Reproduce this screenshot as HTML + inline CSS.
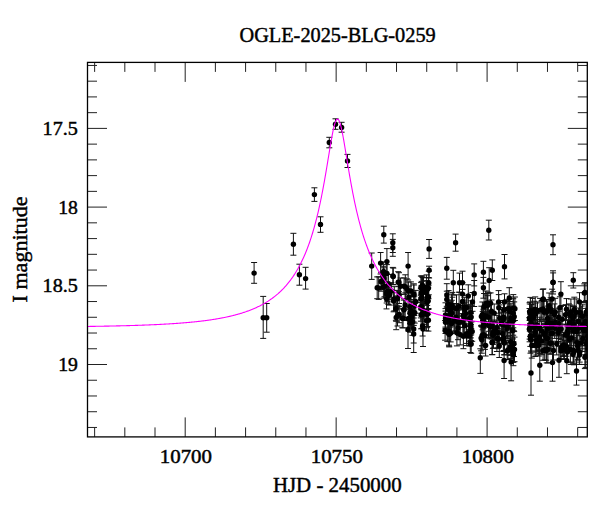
<!DOCTYPE html><html><head><meta charset="utf-8"><style>html,body{margin:0;padding:0;width:600px;height:512px;overflow:hidden;background:#fff}</style></head><body><svg width="600" height="512" viewBox="0 0 600 512" style="position:absolute;left:0;top:0">
<rect width="600" height="512" fill="#fff"/>
<defs><clipPath id="c"><rect x="87.5" y="62.4" width="499.79999999999995" height="374.5"/></clipPath></defs>
<path d="M94.63 436.9V427.40M94.63 62.4V71.90M124.82 436.9V427.40M124.82 62.4V71.90M155.01 436.9V427.40M155.01 62.4V71.90M185.20 436.9V417.40M185.20 62.4V81.90M215.39 436.9V427.40M215.39 62.4V71.90M245.58 436.9V427.40M245.58 62.4V71.90M275.77 436.9V427.40M275.77 62.4V71.90M305.96 436.9V427.40M305.96 62.4V71.90M336.15 436.9V417.40M336.15 62.4V81.90M366.34 436.9V427.40M366.34 62.4V71.90M396.53 436.9V427.40M396.53 62.4V71.90M426.72 436.9V427.40M426.72 62.4V71.90M456.91 436.9V427.40M456.91 62.4V71.90M487.10 436.9V417.40M487.10 62.4V81.90M517.29 436.9V427.40M517.29 62.4V71.90M547.48 436.9V427.40M547.48 62.4V71.90M577.67 436.9V427.40M577.67 62.4V71.90M87.5 65.44H97.00M587.3 65.44H577.80M87.5 81.18H97.00M587.3 81.18H577.80M87.5 96.92H97.00M587.3 96.92H577.80M87.5 112.66H97.00M587.3 112.66H577.80M87.5 128.40H107.00M587.3 128.40H567.80M87.5 144.14H97.00M587.3 144.14H577.80M87.5 159.88H97.00M587.3 159.88H577.80M87.5 175.62H97.00M587.3 175.62H577.80M87.5 191.36H97.00M587.3 191.36H577.80M87.5 207.10H107.00M587.3 207.10H567.80M87.5 222.84H97.00M587.3 222.84H577.80M87.5 238.58H97.00M587.3 238.58H577.80M87.5 254.32H97.00M587.3 254.32H577.80M87.5 270.06H97.00M587.3 270.06H577.80M87.5 285.80H107.00M587.3 285.80H567.80M87.5 301.54H97.00M587.3 301.54H577.80M87.5 317.28H97.00M587.3 317.28H577.80M87.5 333.02H97.00M587.3 333.02H577.80M87.5 348.76H97.00M587.3 348.76H577.80M87.5 364.50H107.00M587.3 364.50H567.80M87.5 380.24H97.00M587.3 380.24H577.80M87.5 395.98H97.00M587.3 395.98H577.80M87.5 411.72H97.00M587.3 411.72H577.80M87.5 427.46H97.00M587.3 427.46H577.80" stroke="#222" stroke-width="1" fill="none"/>
<g clip-path="url(#c)"><path d="M335.5 118.8V129.3M332.5 118.8h6M332.5 129.3h6M341.6 122.3V132.2M338.6 122.3h6M338.6 132.2h6M329.3 137.3V147.8M326.3 137.3h6M326.3 147.8h6M347.5 154.4V167.5M344.5 154.4h6M344.5 167.5h6M314.4 187.8V201.4M311.4 187.8h6M311.4 201.4h6M320.5 216.8V232.3M317.5 216.8h6M317.5 232.3h6M254.1 262.5V283.3M251.1 262.5h6M251.1 283.3h6M293.4 233.3V255.2M290.4 233.3h6M290.4 255.2h6M299.4 264.2V285.2M296.4 264.2h6M296.4 285.2h6M305.6 267.3V289.1M302.6 267.3h6M302.6 289.1h6M263.2 296.4V338.4M260.2 296.4h6M260.2 338.4h6M266.7 303.5V332.2M263.7 303.5h6M263.7 332.2h6M383.8 226.2V243.1M380.8 226.2h6M380.8 243.1h6M392.8 233.8V252.5M389.8 233.8h6M389.8 252.5h6M392.8 239.4V256.3M389.8 239.4h6M389.8 256.3h6M429.1 239.5V258.4M426.1 239.5h6M426.1 258.4h6M429.1 266.2V278.0M426.1 266.2h6M426.1 278.0h6M455.6 234.1V251.2M452.6 234.1h6M452.6 251.2h6M488.8 220.2V240.0M485.8 220.2h6M485.8 240.0h6M553.0 234.8V254.7M550.0 234.8h6M550.0 254.7h6M573.3 272.7V288.0M570.3 272.7h6M570.3 288.0h6M553.0 270.8V294.0M550.0 270.8h6M550.0 294.0h6M371.7 253.0V279.4M368.7 253.0h6M368.7 279.4h6M380.6 252.5V274.0M377.6 252.5h6M377.6 274.0h6M386.9 248.6V274.0M383.9 248.6h6M383.9 274.0h6M408.1 252.5V280.0M405.1 252.5h6M405.1 280.0h6M383.6 261.9V281.1M380.6 261.9h6M380.6 281.1h6M386.9 264.6V282.2M383.9 264.6h6M383.9 282.2h6M378.7 276.8V299.4M375.7 276.8h6M375.7 299.4h6M381.6 272.9V289.6M378.6 272.9h6M378.6 289.6h6M384.5 275.4V296.8M381.5 275.4h6M381.5 296.8h6M388.4 274.4V294.0M385.4 274.4h6M385.4 294.0h6M393.3 268.1V284.7M390.3 268.1h6M390.3 284.7h6M398.2 271.7V292.7M395.2 271.7h6M395.2 292.7h6M404.1 277.9V294.3M401.1 277.9h6M401.1 294.3h6M407.0 278.9V299.3M404.0 278.9h6M404.0 299.3h6M391.4 282.7V299.3M388.4 282.7h6M388.4 299.3h6M388.4 287.4V304.4M385.4 287.4h6M385.4 304.4h6M386.5 288.7V308.9M383.5 288.7h6M383.5 308.9h6M394.3 286.7V310.9M391.3 286.7h6M391.3 310.9h6M399.2 286.3V303.5M396.2 286.3h6M396.2 303.5h6M410.9 281.9V300.1M407.9 281.9h6M407.9 300.1h6M413.8 283.8V306.0M410.8 283.8h6M410.8 306.0h6M396.2 295.9V321.3M393.2 295.9h6M393.2 321.3h6M404.1 298.7V320.5M401.1 298.7h6M401.1 320.5h6M409.9 296.6V316.6M406.9 296.6h6M406.9 316.6h6M413.8 299.6V325.4M410.8 299.6h6M410.8 325.4h6M399.2 306.3V322.7M396.2 306.3h6M396.2 322.7h6M396.2 305.1V329.7M393.2 305.1h6M393.2 329.7h6M403.1 309.0V327.8M400.1 309.0h6M400.1 327.8h6M409.9 309.7V327.1M406.9 309.7h6M406.9 327.1h6M392.8 267.4V284.6M389.8 267.4h6M389.8 284.6h6M399.0 272.7V291.7M396.0 272.7h6M396.0 291.7h6M405.3 274.8V299.0M402.3 274.8h6M402.3 299.0h6M413.9 285.0V302.8M410.9 285.0h6M410.9 302.8h6M377.2 276.9V298.7M374.2 276.9h6M374.2 298.7h6M383.4 275.8V298.2M380.4 275.8h6M380.4 298.2h6M387.3 281.8V301.6M384.3 281.8h6M384.3 301.6h6M393.6 290.4V311.8M390.6 290.4h6M390.6 311.8h6M397.5 290.4V307.1M394.5 290.4h6M394.5 307.1h6M400.6 278.0V294.5M397.6 278.0h6M397.6 294.5h6M408.4 282.0V300.0M405.4 282.0h6M405.4 300.0h6M395.9 297.5V320.3M392.9 297.5h6M392.9 320.3h6M397.5 305.8V326.0M394.5 305.8h6M394.5 326.0h6M403.8 300.1V319.3M400.8 300.1h6M400.8 319.3h6M410.0 301.9V323.7M407.0 301.9h6M407.0 323.7h6M414.7 302.5V323.1M411.7 302.5h6M411.7 323.1h6M402.2 308.8V327.8M399.2 308.8h6M399.2 327.8h6M408.4 307.0V331.0M405.4 307.0h6M405.4 331.0h6M411.6 305.2V328.2M408.6 305.2h6M408.6 328.2h6M410.0 313.8V332.2M407.0 313.8h6M407.0 332.2h6M408.0 317.5V348.5M405.0 317.5h6M405.0 348.5h6M413.7 318.0V343.0M410.7 318.0h6M410.7 343.0h6M413.7 322.0V352.5M410.7 322.0h6M410.7 352.5h6M423.0 317.0V346.5M420.0 317.0h6M420.0 346.5h6M422.6 316.0V336.0M419.6 316.0h6M419.6 336.0h6M421.6 276.2V298.0M418.6 276.2h6M418.6 298.0h6M428.5 277.5V298.7M425.5 277.5h6M425.5 298.7h6M421.6 285.5V310.2M418.6 285.5h6M418.6 310.2h6M428.5 285.3V308.5M425.5 285.3h6M425.5 308.5h6M421.6 297.2V316.0M418.6 297.2h6M418.6 316.0h6M427.5 287.9V313.7M424.5 287.9h6M424.5 313.7h6M423.6 301.9V319.1M420.6 301.9h6M420.6 319.1h6M426.4 310.5V330.7M423.4 310.5h6M423.4 330.7h6M420.9 276.0V299.6M417.9 276.0h6M417.9 299.6h6M427.2 280.6V298.2M424.2 280.6h6M424.2 298.2h6M420.9 288.3V309.2M417.9 288.3h6M417.9 309.2h6M427.2 289.0V305.4M424.2 289.0h6M424.2 305.4h6M420.9 295.3V317.9M417.9 295.3h6M417.9 317.9h6M428.8 271.2V294.8M425.8 271.2h6M425.8 294.8h6M446.8 257.4V279.2M443.8 257.4h6M443.8 279.2h6M453.3 270.3V295.1M450.3 270.3h6M450.3 295.1h6M459.5 273.1V292.3M456.5 273.1h6M456.5 292.3h6M462.5 271.2V294.2M459.5 271.2h6M459.5 294.2h6M474.2 263.9V285.9M471.2 263.9h6M471.2 285.9h6M483.4 261.3V283.1M480.4 261.3h6M480.4 283.1h6M492.3 259.9V280.5M489.3 259.9h6M489.3 280.5h6M504.5 254.5V278.9M501.5 254.5h6M501.5 278.9h6M489.2 267.7V293.1M486.2 267.7h6M486.2 293.1h6M483.4 277.4V298.2M480.4 277.4h6M480.4 298.2h6M446.8 283.7V306.3M443.8 283.7h6M443.8 306.3h6M446.8 291.2V307.8M443.8 291.2h6M443.8 307.8h6M462.5 282.6V305.6M459.5 282.6h6M459.5 305.6h6M468.3 284.8V307.2M465.3 284.8h6M465.3 307.2h6M474.2 280.5V306.5M471.2 280.5h6M471.2 306.5h6M462.5 289.4V313.6M459.5 289.4h6M459.5 313.6h6M472.5 292.5V311.3M469.5 292.5h6M469.5 311.3h6M486.9 293.9V313.7M483.9 293.9h6M483.9 313.7h6M498.6 290.6V313.2M495.6 290.6h6M495.6 313.2h6M504.5 293.8V310.0M501.5 293.8h6M501.5 310.0h6M509.3 287.7V308.3M506.3 287.7h6M506.3 308.3h6M450.7 324.3V341.9M447.7 324.3h6M447.7 341.9h6M470.3 335.3V352.5M467.3 335.3h6M467.3 352.5h6M498.6 330.7V347.3M495.6 330.7h6M495.6 347.3h6M504.5 331.1V354.7M501.5 331.1h6M501.5 354.7h6M510.3 338.2V355.4M507.3 338.2h6M507.3 355.4h6M471.2 334.9V353.3M468.2 334.9h6M468.2 353.3h6M497.8 328.6V348.6M494.8 328.6h6M494.8 348.6h6M504.1 330.1V354.9M501.1 330.1h6M501.1 354.9h6M507.2 342.7V359.5M504.2 342.7h6M504.2 359.5h6M513.4 341.7V362.1M510.4 341.7h6M510.4 362.1h6M513.4 344.3V365.7M510.4 344.3h6M510.4 365.7h6M463.4 323.8V348.7M460.4 323.8h6M460.4 348.7h6M492.3 330.4V354.6M489.3 330.4h6M489.3 354.6h6M512.3 317.7V342.3M509.3 317.7h6M509.3 342.3h6M480.3 348.8V373.4M477.3 348.8h6M477.3 373.4h6M504.1 350.5V378.5M501.1 350.5h6M501.1 378.5h6M511.1 352.0V380.8M508.1 352.0h6M508.1 380.8h6M553.1 272.9V291.7M550.1 272.9h6M550.1 291.7h6M543.3 288.9V309.1M540.3 288.9h6M540.3 309.1h6M552.1 289.2V308.8M549.1 289.2h6M549.1 308.8h6M560.9 281.7V306.5M557.9 281.7h6M557.9 306.5h6M549.2 293.0V318.6M546.2 293.0h6M546.2 318.6h6M537.5 301.9V319.5M534.5 301.9h6M534.5 319.5h6M529.6 302.7V320.5M526.6 302.7h6M526.6 320.5h6M579.5 292.7V311.1M576.5 292.7h6M576.5 311.1h6M584.3 283.9V302.3M581.3 283.9h6M581.3 302.3h6M580.4 302.2V323.0M577.4 302.2h6M577.4 323.0h6M559.9 296.8V318.6M556.9 296.8h6M556.9 318.6h6M546.2 341.6V360.2M543.2 341.6h6M543.2 360.2h6M560.9 342.9V358.9M557.9 342.9h6M557.9 358.9h6M542.8 289.4V309.6M539.8 289.4h6M539.8 309.6h6M585.0 282.7V302.3M582.0 282.7h6M582.0 302.3h6M531.0 351.0V395.2M528.0 351.0h6M528.0 395.2h6M539.8 351.2V381.2M536.8 351.2h6M536.8 381.2h6M552.5 348.6V381.2M549.5 348.6h6M549.5 381.2h6M559.0 346.3V377.3M556.0 346.3h6M556.0 377.3h6M566.8 347.7V373.7M563.8 347.7h6M563.8 373.7h6M576.5 357.0V385.1M573.5 357.0h6M573.5 385.1h6M405.2 292.9V317.1M402.2 292.9h6M402.2 317.1h6M412.5 308.5V335.3M409.5 308.5h6M409.5 335.3h6M408.9 286.1V308.1M405.9 286.1h6M405.9 308.1h6M383.2 266.3V286.4M380.2 266.3h6M380.2 286.4h6M386.7 284.5V303.0M383.7 284.5h6M383.7 303.0h6M381.0 272.2V291.2M378.0 272.2h6M378.0 291.2h6M411.6 301.6V321.0M408.6 301.6h6M408.6 321.0h6M389.8 283.4V305.1M386.8 283.4h6M386.8 305.1h6M415.8 290.4V313.2M412.8 290.4h6M412.8 313.2h6M384.0 267.8V289.3M381.0 267.8h6M381.0 289.3h6M414.3 296.1V315.5M411.3 296.1h6M411.3 315.5h6M411.2 306.3V326.9M408.2 306.3h6M408.2 326.9h6M422.5 277.5V303.2M419.5 277.5h6M419.5 303.2h6M424.1 303.0V324.3M421.1 303.0h6M421.1 324.3h6M421.1 300.9V328.8M418.1 300.9h6M418.1 328.8h6M427.1 301.5V327.7M424.1 301.5h6M424.1 327.7h6M426.0 281.0V304.2M423.0 281.0h6M423.0 304.2h6M422.4 276.0V294.2M419.4 276.0h6M419.4 294.2h6M421.7 281.4V306.3M418.7 281.4h6M418.7 306.3h6M428.1 287.3V314.7M425.1 287.3h6M425.1 314.7h6M428.4 309.5V331.1M425.4 309.5h6M425.4 331.1h6M421.1 282.6V302.6M418.1 282.6h6M418.1 302.6h6M420.9 294.2V321.2M417.9 294.2h6M417.9 321.2h6M427.0 290.0V314.5M424.0 290.0h6M424.0 314.5h6M426.6 274.9V299.5M423.6 274.9h6M423.6 299.5h6M427.6 301.0V326.5M424.6 301.0h6M424.6 326.5h6M423.5 277.8V303.7M420.5 277.8h6M420.5 303.7h6M422.2 300.6V328.3M419.2 300.6h6M419.2 328.3h6M455.9 303.5V331.0M452.9 303.5h6M452.9 331.0h6M464.9 300.0V319.2M461.9 300.0h6M461.9 319.2h6M449.2 320.8V346.9M446.2 320.8h6M446.2 346.9h6M449.0 317.4V345.2M446.0 317.4h6M446.0 345.2h6M463.1 303.8V327.3M460.1 303.8h6M460.1 327.3h6M448.6 290.6V318.3M445.6 290.6h6M445.6 318.3h6M462.9 307.7V335.0M459.9 307.7h6M459.9 335.0h6M456.9 319.6V345.9M453.9 319.6h6M453.9 345.9h6M450.8 301.8V322.8M447.8 301.8h6M447.8 322.8h6M451.6 313.1V333.6M448.6 313.1h6M448.6 333.6h6M456.5 294.8V321.9M453.5 294.8h6M453.5 321.9h6M454.7 307.2V331.0M451.7 307.2h6M451.7 331.0h6M469.9 304.3V331.5M466.9 304.3h6M466.9 331.5h6M458.8 309.9V333.2M455.8 309.9h6M455.8 333.2h6M445.5 308.6V328.4M442.5 308.6h6M442.5 328.4h6M445.1 320.5V340.2M442.1 320.5h6M442.1 340.2h6M458.0 316.1V339.7M455.0 316.1h6M455.0 339.7h6M454.0 309.3V332.9M451.0 309.3h6M451.0 332.9h6M466.6 295.7V319.3M463.6 295.7h6M463.6 319.3h6M451.8 300.3V326.0M448.8 300.3h6M448.8 326.0h6M459.0 309.7V335.3M456.0 309.7h6M456.0 335.3h6M470.1 306.6V330.7M467.1 306.6h6M467.1 330.7h6M458.9 308.4V333.4M455.9 308.4h6M455.9 333.4h6M457.4 310.2V333.0M454.4 310.2h6M454.4 333.0h6M470.9 313.7V340.5M467.9 313.7h6M467.9 340.5h6M470.9 300.8V324.4M467.9 300.8h6M467.9 324.4h6M470.9 322.0V341.4M467.9 322.0h6M467.9 341.4h6M448.3 309.2V328.0M445.3 309.2h6M445.3 328.0h6M451.6 294.1V318.8M448.6 294.1h6M448.6 318.8h6M466.6 323.8V343.4M463.6 323.8h6M463.6 343.4h6M464.7 316.1V335.5M461.7 316.1h6M461.7 335.5h6M469.3 325.8V346.0M466.3 325.8h6M466.3 346.0h6M471.2 305.7V328.6M468.2 305.7h6M468.2 328.6h6M472.2 321.7V341.3M469.2 321.7h6M469.2 341.3h6M456.9 310.3V331.7M453.9 310.3h6M453.9 331.7h6M450.4 301.9V327.1M447.4 301.9h6M447.4 327.1h6M445.5 311.1V333.5M442.5 311.1h6M442.5 333.5h6M445.5 302.8V327.1M442.5 302.8h6M442.5 327.1h6M459.1 292.2V320.0M456.1 292.2h6M456.1 320.0h6M466.7 326.5V345.6M463.7 326.5h6M463.7 345.6h6M452.3 292.4V318.2M449.3 292.4h6M449.3 318.2h6M452.4 297.2V319.4M449.4 297.2h6M449.4 319.4h6M470.1 320.7V341.3M467.1 320.7h6M467.1 341.3h6M449.1 322.5V346.2M446.1 322.5h6M446.1 346.2h6M464.3 297.7V316.2M461.3 297.7h6M461.3 316.2h6M463.9 308.7V327.4M460.9 308.7h6M460.9 327.4h6M470.8 311.9V337.9M467.8 311.9h6M467.8 337.9h6M447.3 322.9V341.6M444.3 322.9h6M444.3 341.6h6M468.7 308.3V329.7M465.7 308.3h6M465.7 329.7h6M460.2 324.2V344.9M457.2 324.2h6M457.2 344.9h6M448.6 311.2V331.6M445.6 311.2h6M445.6 331.6h6M448.0 300.1V318.6M445.0 300.1h6M445.0 318.6h6M450.5 303.8V324.8M447.5 303.8h6M447.5 324.8h6M465.9 302.1V325.1M462.9 302.1h6M462.9 325.1h6M449.9 306.4V324.5M446.9 306.4h6M446.9 324.5h6M485.8 291.0V316.3M482.8 291.0h6M482.8 316.3h6M491.5 300.0V322.7M488.5 300.0h6M488.5 322.7h6M498.8 294.6V320.8M495.8 294.6h6M495.8 320.8h6M489.2 311.6V338.0M486.2 311.6h6M486.2 338.0h6M488.5 312.9V337.7M485.5 312.9h6M485.5 337.7h6M499.7 304.9V331.2M496.7 304.9h6M496.7 331.2h6M494.4 320.0V342.0M491.4 320.0h6M491.4 342.0h6M487.6 295.7V315.0M484.6 295.7h6M484.6 315.0h6M482.3 325.3V345.9M479.3 325.3h6M479.3 345.9h6M484.1 293.5V319.9M481.1 293.5h6M481.1 319.9h6M497.5 322.1V342.9M494.5 322.1h6M494.5 342.9h6M485.6 304.6V327.2M482.6 304.6h6M482.6 327.2h6M484.0 312.3V332.9M481.0 312.3h6M481.0 332.9h6M499.3 334.1V357.5M496.3 334.1h6M496.3 357.5h6M485.6 334.9V356.0M482.6 334.9h6M482.6 356.0h6M487.8 292.1V314.0M484.8 292.1h6M484.8 314.0h6M490.0 315.1V335.1M487.0 315.1h6M487.0 335.1h6M490.6 292.9V313.5M487.6 292.9h6M487.6 313.5h6M482.7 311.4V329.8M479.7 311.4h6M479.7 329.8h6M481.4 306.2V326.6M478.4 306.2h6M478.4 326.6h6M492.1 313.5V339.0M489.1 313.5h6M489.1 339.0h6M493.5 321.1V347.9M490.5 321.1h6M490.5 347.9h6M488.4 303.4V331.3M485.4 303.4h6M485.4 331.3h6M483.8 322.6V347.1M480.8 322.6h6M480.8 347.1h6M481.8 326.3V353.2M478.8 326.3h6M478.8 353.2h6M492.9 322.2V348.4M489.9 322.2h6M489.9 348.4h6M483.6 314.5V337.6M480.6 314.5h6M480.6 337.6h6M496.9 325.3V351.5M493.9 325.3h6M493.9 351.5h6M492.1 329.9V354.7M489.1 329.9h6M489.1 354.7h6M494.2 304.0V322.3M491.2 304.0h6M491.2 322.3h6M483.5 309.3V328.4M480.5 309.3h6M480.5 328.4h6M496.9 315.4V339.7M493.9 315.4h6M493.9 339.7h6M492.9 321.5V344.4M489.9 321.5h6M489.9 344.4h6M481.1 325.4V350.8M478.1 325.4h6M478.1 350.8h6M490.6 314.3V338.8M487.6 314.3h6M487.6 338.8h6M482.3 325.2V345.7M479.3 325.2h6M479.3 345.7h6M482.4 302.0V327.3M479.4 302.0h6M479.4 327.3h6M484.9 321.7V349.4M481.9 321.7h6M481.9 349.4h6M507.4 313.0V336.7M504.4 313.0h6M504.4 336.7h6M510.6 329.0V354.4M507.6 329.0h6M507.6 354.4h6M509.9 301.5V321.3M506.9 301.5h6M506.9 321.3h6M503.3 329.9V351.5M500.3 329.9h6M500.3 351.5h6M508.7 299.2V317.9M505.7 299.2h6M505.7 317.9h6M503.6 324.4V350.7M500.6 324.4h6M500.6 350.7h6M510.5 308.7V332.9M507.5 308.7h6M507.5 332.9h6M506.9 318.8V338.2M503.9 318.8h6M503.9 338.2h6M514.2 301.9V331.6M511.2 301.9h6M511.2 331.6h6M514.9 297.0V320.5M511.9 297.0h6M511.9 320.5h6M512.9 338.9V362.3M509.9 338.9h6M509.9 362.3h6M503.6 302.6V331.9M500.6 302.6h6M500.6 331.9h6M502.6 323.7V343.4M499.6 323.7h6M499.6 343.4h6M507.9 340.1V359.7M504.9 340.1h6M504.9 359.7h6M512.9 316.1V344.7M509.9 316.1h6M509.9 344.7h6M511.0 303.8V332.6M508.0 303.8h6M508.0 332.6h6M507.3 300.1V318.1M504.3 300.1h6M504.3 318.1h6M507.4 317.0V338.6M504.4 317.0h6M504.4 338.6h6M501.4 312.2V334.0M498.4 312.2h6M498.4 334.0h6M513.3 294.6V321.6M510.3 294.6h6M510.3 321.6h6M513.3 298.7V327.8M510.3 298.7h6M510.3 327.8h6M511.1 336.9V358.4M508.1 336.9h6M508.1 358.4h6M505.3 310.3V340.3M502.3 310.3h6M502.3 340.3h6M509.0 312.3V335.4M506.0 312.3h6M506.0 335.4h6M503.7 300.5V319.7M500.7 300.5h6M500.7 319.7h6M513.2 306.0V335.2M510.2 306.0h6M510.2 335.2h6M503.2 307.6V331.8M500.2 307.6h6M500.2 331.8h6M502.2 309.7V339.2M499.2 309.7h6M499.2 339.2h6M514.0 330.9V356.5M511.0 330.9h6M511.0 356.5h6M514.5 337.1V361.7M511.5 337.1h6M511.5 361.7h6M532.6 298.4V323.7M529.6 298.4h6M529.6 323.7h6M531.3 327.6V352.1M528.3 327.6h6M528.3 352.1h6M530.4 297.4V324.6M527.4 297.4h6M527.4 324.6h6M529.6 317.6V339.1M526.6 317.6h6M526.6 339.1h6M530.5 325.4V353.2M527.5 325.4h6M527.5 353.2h6M530.3 325.4V346.4M527.3 325.4h6M527.3 346.4h6M531.8 315.3V335.0M528.8 315.3h6M528.8 335.0h6M529.8 304.0V331.1M526.8 304.0h6M526.8 331.1h6M531.5 304.5V331.6M528.5 304.5h6M528.5 331.6h6M534.0 317.8V337.1M531.0 317.8h6M531.0 337.1h6M530.0 302.0V323.4M527.0 302.0h6M527.0 323.4h6M529.5 308.5V329.1M526.5 308.5h6M526.5 329.1h6M531.8 332.6V358.1M528.8 332.6h6M528.8 358.1h6M531.1 314.3V337.6M528.1 314.3h6M528.1 337.6h6M530.9 313.6V332.2M527.9 313.6h6M527.9 332.2h6M529.6 317.5V341.8M526.6 317.5h6M526.6 341.8h6M533.3 307.5V328.2M530.3 307.5h6M530.3 328.2h6M530.2 314.2V336.6M527.2 314.2h6M527.2 336.6h6M585.5 308.4V335.1M582.5 308.4h6M582.5 335.1h6M535.2 296.9V322.0M532.2 296.9h6M532.2 322.0h6M582.4 304.2V328.0M579.4 304.2h6M579.4 328.0h6M534.0 301.2V328.5M531.0 301.2h6M531.0 328.5h6M578.6 308.0V335.7M575.6 308.0h6M575.6 335.7h6M547.4 300.9V320.4M544.4 300.9h6M544.4 320.4h6M562.2 305.5V332.9M559.2 305.5h6M559.2 332.9h6M573.0 305.9V331.5M570.0 305.9h6M570.0 331.5h6M558.7 308.1V326.5M555.7 308.1h6M555.7 326.5h6M576.2 298.9V326.1M573.2 298.9h6M573.2 326.1h6M568.9 303.9V323.2M565.9 303.9h6M565.9 323.2h6M547.6 306.1V331.0M544.6 306.1h6M544.6 331.0h6M540.1 298.4V321.7M537.1 298.4h6M537.1 321.7h6M565.5 304.7V324.9M562.5 304.7h6M562.5 324.9h6M566.5 298.6V319.7M563.5 298.6h6M563.5 319.7h6M558.9 311.2V335.6M555.9 311.2h6M555.9 335.6h6M581.7 306.0V326.3M578.7 306.0h6M578.7 326.3h6M547.3 310.9V335.9M544.3 310.9h6M544.3 335.9h6M550.6 297.8V320.8M547.6 297.8h6M547.6 320.8h6M570.4 305.0V325.6M567.4 305.0h6M567.4 325.6h6M570.0 312.7V333.0M567.0 312.7h6M567.0 333.0h6M535.8 303.0V325.2M532.8 303.0h6M532.8 325.2h6M570.9 299.0V325.0M567.9 299.0h6M567.9 325.0h6M573.9 306.5V326.6M570.9 306.5h6M570.9 326.6h6M586.4 300.6V326.8M583.4 300.6h6M583.4 326.8h6M546.5 299.5V325.1M543.5 299.5h6M543.5 325.1h6M549.9 311.8V334.8M546.9 311.8h6M546.9 334.8h6M544.1 301.3V323.4M541.1 301.3h6M541.1 323.4h6M569.9 313.5V333.0M566.9 313.5h6M566.9 333.0h6M555.2 298.3V326.1M552.2 298.3h6M552.2 326.1h6M541.7 300.5V319.1M538.7 300.5h6M538.7 319.1h6M555.2 309.1V335.9M552.2 309.1h6M552.2 335.9h6M573.6 310.3V337.6M570.6 310.3h6M570.6 337.6h6M551.8 298.1V325.5M548.8 298.1h6M548.8 325.5h6M574.3 297.2V321.8M571.3 297.2h6M571.3 321.8h6M554.4 303.9V325.3M551.4 303.9h6M551.4 325.3h6M543.1 298.6V319.4M540.1 298.6h6M540.1 319.4h6M553.0 313.7V333.0M550.0 313.7h6M550.0 333.0h6M586.1 301.3V322.9M583.1 301.3h6M583.1 322.9h6M578.4 310.2V332.5M575.4 310.2h6M575.4 332.5h6M536.7 329.2V351.0M533.7 329.2h6M533.7 351.0h6M583.7 319.7V341.4M580.7 319.7h6M580.7 341.4h6M582.4 314.0V336.1M579.4 314.0h6M579.4 336.1h6M577.8 340.9V359.3M574.8 340.9h6M574.8 359.3h6M535.9 312.5V339.7M532.9 312.5h6M532.9 339.7h6M547.9 335.9V362.9M544.9 335.9h6M544.9 362.9h6M552.3 319.5V347.0M549.3 319.5h6M549.3 347.0h6M567.3 320.3V345.5M564.3 320.3h6M564.3 345.5h6M551.1 324.4V342.4M548.1 324.4h6M548.1 342.4h6M535.3 320.6V343.3M532.3 320.6h6M532.3 343.3h6M585.7 345.5V367.4M582.7 345.5h6M582.7 367.4h6M547.6 327.2V350.1M544.6 327.2h6M544.6 350.1h6M584.1 317.2V343.2M581.1 317.2h6M581.1 343.2h6M573.9 339.1V364.8M570.9 339.1h6M570.9 364.8h6M566.8 324.5V345.7M563.8 324.5h6M563.8 345.7h6M553.5 341.2V360.0M550.5 341.2h6M550.5 360.0h6M544.7 339.4V359.8M541.7 339.4h6M541.7 359.8h6M537.5 313.4V336.9M534.5 313.4h6M534.5 336.9h6M548.3 317.4V336.3M545.3 317.4h6M545.3 336.3h6M560.9 336.9V359.4M557.9 336.9h6M557.9 359.4h6M546.6 326.1V350.3M543.6 326.1h6M543.6 350.3h6M570.4 336.2V362.7M567.4 336.2h6M567.4 362.7h6M569.9 314.9V341.3M566.9 314.9h6M566.9 341.3h6M549.9 332.4V354.1M546.9 332.4h6M546.9 354.1h6M573.9 320.5V341.0M570.9 320.5h6M570.9 341.0h6M547.2 315.8V342.6M544.2 315.8h6M544.2 342.6h6M565.2 324.1V346.1M562.2 324.1h6M562.2 346.1h6M587.6 331.1V351.4M584.6 331.1h6M584.6 351.4h6M577.7 332.3V360.2M574.7 332.3h6M574.7 360.2h6M539.5 327.0V353.2M536.5 327.0h6M536.5 353.2h6M579.4 345.9V364.3M576.4 345.9h6M576.4 364.3h6M549.9 318.1V338.0M546.9 318.1h6M546.9 338.0h6M586.5 330.2V357.5M583.5 330.2h6M583.5 357.5h6M558.3 319.9V345.7M555.3 319.9h6M555.3 345.7h6M585.1 315.6V339.6M582.1 315.6h6M582.1 339.6h6M567.5 320.6V342.2M564.5 320.6h6M564.5 342.2h6M541.6 320.7V341.2M538.6 320.7h6M538.6 341.2h6M566.4 336.1V356.2M563.4 336.1h6M563.4 356.2h6M534.6 322.7V347.5M531.6 322.7h6M531.6 347.5h6M544.0 324.6V344.6M541.0 324.6h6M541.0 344.6h6M576.9 333.3V351.9M573.9 333.3h6M573.9 351.9h6M539.5 325.7V349.2M536.5 325.7h6M536.5 349.2h6M568.5 317.3V336.9M565.5 317.3h6M565.5 336.9h6M571.6 327.5V348.3M568.6 327.5h6M568.6 348.3h6M550.9 332.5V354.0M547.9 332.5h6M547.9 354.0h6M587.8 326.4V346.4M584.8 326.4h6M584.8 346.4h6M573.3 321.9V340.0M570.3 321.9h6M570.3 340.0h6M582.7 325.3V351.5M579.7 325.3h6M579.7 351.5h6M558.9 320.5V338.6M555.9 320.5h6M555.9 338.6h6M563.8 332.2V359.3M560.8 332.2h6M560.8 359.3h6M538.8 334.3V356.0M535.8 334.3h6M535.8 356.0h6M561.2 318.5V339.4M558.2 318.5h6M558.2 339.4h6M539.9 327.7V353.7M536.9 327.7h6M536.9 353.7h6M586.2 321.1V340.3M583.2 321.1h6M583.2 340.3h6M584.9 345.8V368.6M581.9 345.8h6M581.9 368.6h6M567.5 342.2V361.8M564.5 342.2h6M564.5 361.8h6M576.4 320.5V342.6M573.4 320.5h6M573.4 342.6h6M579.7 342.3V362.1M576.7 342.3h6M576.7 362.1h6M545.8 326.0V349.2M542.8 326.0h6M542.8 349.2h6M554.7 317.9V338.4M551.7 317.9h6M551.7 338.4h6M573.1 345.3V363.7M570.1 345.3h6M570.1 363.7h6M564.4 340.6V358.9M561.4 340.6h6M561.4 358.9h6M579.3 316.0V340.0M576.3 316.0h6M576.3 340.0h6M563.7 334.8V355.9M560.7 334.8h6M560.7 355.9h6M556.7 332.7V354.9M553.7 332.7h6M553.7 354.9h6M569.6 328.0V350.4M566.6 328.0h6M566.6 350.4h6M535.3 333.6V356.5M532.3 333.6h6M532.3 356.5h6M546.7 337.1V362.9M543.7 337.1h6M543.7 362.9h6M558.7 318.7V341.5M555.7 318.7h6M555.7 341.5h6M539.8 317.2V339.5M536.8 317.2h6M536.8 339.5h6M539.0 327.5V350.6M536.0 327.5h6M536.0 350.6h6M536.2 336.2V355.1M533.2 336.2h6M533.2 355.1h6M573.6 338.9V362.0M570.6 338.9h6M570.6 362.0h6M536.9 330.2V352.0M533.9 330.2h6M533.9 352.0h6M585.3 315.3V341.9M582.3 315.3h6M582.3 341.9h6M587.8 335.8V362.0M584.8 335.8h6M584.8 362.0h6M583.5 316.7V342.6M580.5 316.7h6M580.5 342.6h6M584.3 315.5V337.0M581.3 315.5h6M581.3 337.0h6M574.8 315.9V342.9M571.8 315.9h6M571.8 342.9h6M541.8 327.5V354.7M538.8 327.5h6M538.8 354.7h6M545.2 321.4V344.5M542.2 321.4h6M542.2 344.5h6M551.2 315.3V335.2M548.2 315.3h6M548.2 335.2h6M543.1 341.1V360.3M540.1 341.1h6M540.1 360.3h6M562.7 334.8V356.4M559.7 334.8h6M559.7 356.4h6M581.1 331.0V354.8M578.1 331.0h6M578.1 354.8h6" stroke="#111" stroke-width="1" fill="none"/>
<g fill="#000"><circle cx="335.5" cy="124.3" r="2.7"/><circle cx="341.6" cy="127.5" r="2.7"/><circle cx="329.3" cy="142.4" r="2.7"/><circle cx="347.5" cy="160.9" r="2.7"/><circle cx="314.4" cy="194.6" r="2.7"/><circle cx="320.5" cy="224.4" r="2.7"/><circle cx="254.1" cy="273.1" r="2.7"/><circle cx="293.4" cy="244.2" r="2.7"/><circle cx="299.4" cy="274.7" r="2.7"/><circle cx="305.6" cy="278.6" r="2.7"/><circle cx="263.2" cy="317.8" r="2.7"/><circle cx="266.7" cy="317.8" r="2.7"/><circle cx="383.8" cy="234.8" r="2.7"/><circle cx="392.8" cy="242.8" r="2.7"/><circle cx="392.8" cy="247.8" r="2.7"/><circle cx="429.1" cy="248.9" r="2.7"/><circle cx="429.1" cy="270.2" r="2.7"/><circle cx="455.6" cy="242.7" r="2.7"/><circle cx="488.8" cy="230.2" r="2.7"/><circle cx="553.0" cy="244.7" r="2.7"/><circle cx="573.3" cy="280.2" r="2.7"/><circle cx="553.0" cy="282.5" r="2.7"/><circle cx="371.7" cy="266.1" r="2.7"/><circle cx="380.6" cy="263.1" r="2.7"/><circle cx="386.9" cy="261.6" r="2.7"/><circle cx="408.1" cy="266.1" r="2.7"/><circle cx="383.6" cy="271.5" r="2.7"/><circle cx="386.9" cy="273.4" r="2.7"/><circle cx="378.7" cy="288.1" r="2.7"/><circle cx="381.6" cy="281.2" r="2.7"/><circle cx="384.5" cy="286.1" r="2.7"/><circle cx="388.4" cy="284.2" r="2.7"/><circle cx="393.3" cy="276.4" r="2.7"/><circle cx="398.2" cy="282.2" r="2.7"/><circle cx="404.1" cy="286.1" r="2.7"/><circle cx="407.0" cy="289.1" r="2.7"/><circle cx="391.4" cy="291.0" r="2.7"/><circle cx="388.4" cy="295.9" r="2.7"/><circle cx="386.5" cy="298.8" r="2.7"/><circle cx="394.3" cy="298.8" r="2.7"/><circle cx="399.2" cy="294.9" r="2.7"/><circle cx="410.9" cy="291.0" r="2.7"/><circle cx="413.8" cy="294.9" r="2.7"/><circle cx="396.2" cy="308.6" r="2.7"/><circle cx="404.1" cy="309.6" r="2.7"/><circle cx="409.9" cy="306.6" r="2.7"/><circle cx="413.8" cy="312.5" r="2.7"/><circle cx="399.2" cy="314.5" r="2.7"/><circle cx="396.2" cy="317.4" r="2.7"/><circle cx="403.1" cy="318.4" r="2.7"/><circle cx="409.9" cy="318.4" r="2.7"/><circle cx="392.8" cy="276.0" r="2.7"/><circle cx="399.0" cy="282.2" r="2.7"/><circle cx="405.3" cy="286.9" r="2.7"/><circle cx="413.9" cy="293.9" r="2.7"/><circle cx="377.2" cy="287.8" r="2.7"/><circle cx="383.4" cy="287.0" r="2.7"/><circle cx="387.3" cy="291.7" r="2.7"/><circle cx="393.6" cy="301.1" r="2.7"/><circle cx="397.5" cy="298.8" r="2.7"/><circle cx="400.6" cy="286.2" r="2.7"/><circle cx="408.4" cy="291.0" r="2.7"/><circle cx="395.9" cy="308.9" r="2.7"/><circle cx="397.5" cy="315.9" r="2.7"/><circle cx="403.8" cy="309.7" r="2.7"/><circle cx="410.0" cy="312.8" r="2.7"/><circle cx="414.7" cy="312.8" r="2.7"/><circle cx="402.2" cy="318.3" r="2.7"/><circle cx="408.4" cy="319.0" r="2.7"/><circle cx="411.6" cy="316.7" r="2.7"/><circle cx="410.0" cy="323.0" r="2.7"/><circle cx="408.0" cy="329.5" r="2.7"/><circle cx="413.7" cy="329.0" r="2.7"/><circle cx="413.7" cy="334.0" r="2.7"/><circle cx="423.0" cy="329.0" r="2.7"/><circle cx="422.6" cy="326.0" r="2.7"/><circle cx="421.6" cy="287.1" r="2.7"/><circle cx="428.5" cy="288.1" r="2.7"/><circle cx="421.6" cy="297.9" r="2.7"/><circle cx="428.5" cy="296.9" r="2.7"/><circle cx="421.6" cy="306.6" r="2.7"/><circle cx="427.5" cy="300.8" r="2.7"/><circle cx="423.6" cy="310.5" r="2.7"/><circle cx="426.4" cy="320.6" r="2.7"/><circle cx="420.9" cy="287.8" r="2.7"/><circle cx="427.2" cy="289.4" r="2.7"/><circle cx="420.9" cy="298.8" r="2.7"/><circle cx="427.2" cy="297.2" r="2.7"/><circle cx="420.9" cy="306.6" r="2.7"/><circle cx="428.8" cy="283.0" r="2.7"/><circle cx="446.8" cy="268.3" r="2.7"/><circle cx="453.3" cy="282.7" r="2.7"/><circle cx="459.5" cy="282.7" r="2.7"/><circle cx="462.5" cy="282.7" r="2.7"/><circle cx="474.2" cy="274.9" r="2.7"/><circle cx="483.4" cy="272.2" r="2.7"/><circle cx="492.3" cy="270.2" r="2.7"/><circle cx="504.5" cy="266.7" r="2.7"/><circle cx="489.2" cy="280.4" r="2.7"/><circle cx="483.4" cy="287.8" r="2.7"/><circle cx="446.8" cy="295.0" r="2.7"/><circle cx="446.8" cy="299.5" r="2.7"/><circle cx="462.5" cy="294.1" r="2.7"/><circle cx="468.3" cy="296.0" r="2.7"/><circle cx="474.2" cy="293.5" r="2.7"/><circle cx="462.5" cy="301.5" r="2.7"/><circle cx="472.5" cy="301.9" r="2.7"/><circle cx="486.9" cy="303.8" r="2.7"/><circle cx="498.6" cy="301.9" r="2.7"/><circle cx="504.5" cy="301.9" r="2.7"/><circle cx="509.3" cy="298.0" r="2.7"/><circle cx="450.7" cy="333.1" r="2.7"/><circle cx="470.3" cy="343.9" r="2.7"/><circle cx="498.6" cy="339.0" r="2.7"/><circle cx="504.5" cy="342.9" r="2.7"/><circle cx="510.3" cy="346.8" r="2.7"/><circle cx="471.2" cy="344.1" r="2.7"/><circle cx="497.8" cy="338.6" r="2.7"/><circle cx="504.1" cy="342.5" r="2.7"/><circle cx="507.2" cy="351.1" r="2.7"/><circle cx="513.4" cy="351.9" r="2.7"/><circle cx="513.4" cy="355.0" r="2.7"/><circle cx="463.4" cy="336.2" r="2.7"/><circle cx="492.3" cy="342.5" r="2.7"/><circle cx="512.3" cy="330.0" r="2.7"/><circle cx="480.3" cy="357.8" r="2.7"/><circle cx="504.1" cy="360.5" r="2.7"/><circle cx="511.1" cy="362.0" r="2.7"/><circle cx="553.1" cy="282.3" r="2.7"/><circle cx="543.3" cy="299.0" r="2.7"/><circle cx="552.1" cy="299.0" r="2.7"/><circle cx="560.9" cy="294.1" r="2.7"/><circle cx="549.2" cy="305.8" r="2.7"/><circle cx="537.5" cy="310.7" r="2.7"/><circle cx="529.6" cy="311.6" r="2.7"/><circle cx="579.5" cy="301.9" r="2.7"/><circle cx="584.3" cy="293.1" r="2.7"/><circle cx="580.4" cy="312.6" r="2.7"/><circle cx="559.9" cy="307.7" r="2.7"/><circle cx="546.2" cy="350.9" r="2.7"/><circle cx="560.9" cy="350.9" r="2.7"/><circle cx="542.8" cy="299.5" r="2.7"/><circle cx="585.0" cy="292.5" r="2.7"/><circle cx="531.0" cy="373.0" r="2.7"/><circle cx="539.8" cy="365.2" r="2.7"/><circle cx="552.5" cy="362.6" r="2.7"/><circle cx="559.0" cy="360.3" r="2.7"/><circle cx="566.8" cy="360.7" r="2.7"/><circle cx="576.5" cy="371.0" r="2.7"/><circle cx="405.2" cy="305.0" r="2.7"/><circle cx="412.5" cy="321.9" r="2.7"/><circle cx="408.9" cy="297.1" r="2.7"/><circle cx="383.2" cy="276.3" r="2.7"/><circle cx="386.7" cy="293.8" r="2.7"/><circle cx="381.0" cy="281.7" r="2.7"/><circle cx="411.6" cy="311.3" r="2.7"/><circle cx="389.8" cy="294.2" r="2.7"/><circle cx="415.8" cy="301.8" r="2.7"/><circle cx="384.0" cy="278.5" r="2.7"/><circle cx="414.3" cy="305.8" r="2.7"/><circle cx="411.2" cy="316.6" r="2.7"/><circle cx="422.5" cy="290.3" r="2.7"/><circle cx="424.1" cy="313.6" r="2.7"/><circle cx="421.1" cy="314.8" r="2.7"/><circle cx="427.1" cy="314.6" r="2.7"/><circle cx="426.0" cy="292.6" r="2.7"/><circle cx="422.4" cy="285.1" r="2.7"/><circle cx="421.7" cy="293.8" r="2.7"/><circle cx="428.1" cy="301.0" r="2.7"/><circle cx="428.4" cy="320.3" r="2.7"/><circle cx="421.1" cy="292.6" r="2.7"/><circle cx="420.9" cy="307.7" r="2.7"/><circle cx="427.0" cy="302.2" r="2.7"/><circle cx="426.6" cy="287.2" r="2.7"/><circle cx="427.6" cy="313.7" r="2.7"/><circle cx="423.5" cy="290.8" r="2.7"/><circle cx="422.2" cy="314.4" r="2.7"/><circle cx="455.9" cy="317.2" r="2.7"/><circle cx="464.9" cy="309.6" r="2.7"/><circle cx="449.2" cy="333.9" r="2.7"/><circle cx="449.0" cy="331.3" r="2.7"/><circle cx="463.1" cy="315.6" r="2.7"/><circle cx="448.6" cy="304.5" r="2.7"/><circle cx="462.9" cy="321.4" r="2.7"/><circle cx="456.9" cy="332.8" r="2.7"/><circle cx="450.8" cy="312.3" r="2.7"/><circle cx="451.6" cy="323.4" r="2.7"/><circle cx="456.5" cy="308.3" r="2.7"/><circle cx="454.7" cy="319.1" r="2.7"/><circle cx="469.9" cy="317.9" r="2.7"/><circle cx="458.8" cy="321.6" r="2.7"/><circle cx="445.5" cy="318.5" r="2.7"/><circle cx="445.1" cy="330.4" r="2.7"/><circle cx="458.0" cy="327.9" r="2.7"/><circle cx="454.0" cy="321.1" r="2.7"/><circle cx="466.6" cy="307.5" r="2.7"/><circle cx="451.8" cy="313.1" r="2.7"/><circle cx="459.0" cy="322.5" r="2.7"/><circle cx="470.1" cy="318.6" r="2.7"/><circle cx="458.9" cy="320.9" r="2.7"/><circle cx="457.4" cy="321.6" r="2.7"/><circle cx="470.9" cy="327.1" r="2.7"/><circle cx="470.9" cy="312.6" r="2.7"/><circle cx="470.9" cy="331.7" r="2.7"/><circle cx="448.3" cy="318.6" r="2.7"/><circle cx="451.6" cy="306.4" r="2.7"/><circle cx="466.6" cy="333.6" r="2.7"/><circle cx="464.7" cy="325.8" r="2.7"/><circle cx="469.3" cy="335.9" r="2.7"/><circle cx="471.2" cy="317.1" r="2.7"/><circle cx="472.2" cy="331.5" r="2.7"/><circle cx="456.9" cy="321.0" r="2.7"/><circle cx="450.4" cy="314.5" r="2.7"/><circle cx="445.5" cy="322.3" r="2.7"/><circle cx="445.5" cy="314.9" r="2.7"/><circle cx="459.1" cy="306.1" r="2.7"/><circle cx="466.7" cy="336.1" r="2.7"/><circle cx="452.3" cy="305.3" r="2.7"/><circle cx="452.4" cy="308.3" r="2.7"/><circle cx="470.1" cy="331.0" r="2.7"/><circle cx="449.1" cy="334.3" r="2.7"/><circle cx="464.3" cy="307.0" r="2.7"/><circle cx="463.9" cy="318.0" r="2.7"/><circle cx="470.8" cy="324.9" r="2.7"/><circle cx="447.3" cy="332.3" r="2.7"/><circle cx="468.7" cy="319.0" r="2.7"/><circle cx="460.2" cy="334.6" r="2.7"/><circle cx="448.6" cy="321.4" r="2.7"/><circle cx="448.0" cy="309.3" r="2.7"/><circle cx="450.5" cy="314.3" r="2.7"/><circle cx="465.9" cy="313.6" r="2.7"/><circle cx="449.9" cy="315.5" r="2.7"/><circle cx="485.8" cy="303.7" r="2.7"/><circle cx="491.5" cy="311.3" r="2.7"/><circle cx="498.8" cy="307.7" r="2.7"/><circle cx="489.2" cy="324.8" r="2.7"/><circle cx="488.5" cy="325.3" r="2.7"/><circle cx="499.7" cy="318.1" r="2.7"/><circle cx="494.4" cy="331.0" r="2.7"/><circle cx="487.6" cy="305.4" r="2.7"/><circle cx="482.3" cy="335.6" r="2.7"/><circle cx="484.1" cy="306.7" r="2.7"/><circle cx="497.5" cy="332.5" r="2.7"/><circle cx="485.6" cy="315.9" r="2.7"/><circle cx="484.0" cy="322.6" r="2.7"/><circle cx="499.3" cy="345.8" r="2.7"/><circle cx="485.6" cy="345.5" r="2.7"/><circle cx="487.8" cy="303.0" r="2.7"/><circle cx="490.0" cy="325.1" r="2.7"/><circle cx="490.6" cy="303.2" r="2.7"/><circle cx="482.7" cy="320.6" r="2.7"/><circle cx="481.4" cy="316.4" r="2.7"/><circle cx="492.1" cy="326.3" r="2.7"/><circle cx="493.5" cy="334.5" r="2.7"/><circle cx="488.4" cy="317.3" r="2.7"/><circle cx="483.8" cy="334.9" r="2.7"/><circle cx="481.8" cy="339.8" r="2.7"/><circle cx="492.9" cy="335.3" r="2.7"/><circle cx="483.6" cy="326.0" r="2.7"/><circle cx="496.9" cy="338.4" r="2.7"/><circle cx="492.1" cy="342.3" r="2.7"/><circle cx="494.2" cy="313.1" r="2.7"/><circle cx="483.5" cy="318.9" r="2.7"/><circle cx="496.9" cy="327.6" r="2.7"/><circle cx="492.9" cy="332.9" r="2.7"/><circle cx="481.1" cy="338.1" r="2.7"/><circle cx="490.6" cy="326.5" r="2.7"/><circle cx="482.3" cy="335.4" r="2.7"/><circle cx="482.4" cy="314.7" r="2.7"/><circle cx="484.9" cy="335.6" r="2.7"/><circle cx="507.4" cy="324.8" r="2.7"/><circle cx="510.6" cy="341.7" r="2.7"/><circle cx="509.9" cy="311.4" r="2.7"/><circle cx="503.3" cy="340.7" r="2.7"/><circle cx="508.7" cy="308.5" r="2.7"/><circle cx="503.6" cy="337.6" r="2.7"/><circle cx="510.5" cy="320.8" r="2.7"/><circle cx="506.9" cy="328.5" r="2.7"/><circle cx="514.2" cy="316.8" r="2.7"/><circle cx="514.9" cy="308.8" r="2.7"/><circle cx="512.9" cy="350.6" r="2.7"/><circle cx="503.6" cy="317.2" r="2.7"/><circle cx="502.6" cy="333.6" r="2.7"/><circle cx="507.9" cy="349.9" r="2.7"/><circle cx="512.9" cy="330.4" r="2.7"/><circle cx="511.0" cy="318.2" r="2.7"/><circle cx="507.3" cy="309.1" r="2.7"/><circle cx="507.4" cy="327.8" r="2.7"/><circle cx="501.4" cy="323.1" r="2.7"/><circle cx="513.3" cy="308.1" r="2.7"/><circle cx="513.3" cy="313.3" r="2.7"/><circle cx="511.1" cy="347.7" r="2.7"/><circle cx="505.3" cy="325.3" r="2.7"/><circle cx="509.0" cy="323.9" r="2.7"/><circle cx="503.7" cy="310.1" r="2.7"/><circle cx="513.2" cy="320.6" r="2.7"/><circle cx="503.2" cy="319.7" r="2.7"/><circle cx="502.2" cy="324.4" r="2.7"/><circle cx="514.0" cy="343.7" r="2.7"/><circle cx="514.5" cy="349.4" r="2.7"/><circle cx="532.6" cy="311.0" r="2.7"/><circle cx="531.3" cy="339.9" r="2.7"/><circle cx="530.4" cy="311.0" r="2.7"/><circle cx="529.6" cy="328.4" r="2.7"/><circle cx="530.5" cy="339.3" r="2.7"/><circle cx="530.3" cy="335.9" r="2.7"/><circle cx="531.8" cy="325.2" r="2.7"/><circle cx="529.8" cy="317.5" r="2.7"/><circle cx="531.5" cy="318.0" r="2.7"/><circle cx="534.0" cy="327.4" r="2.7"/><circle cx="530.0" cy="312.7" r="2.7"/><circle cx="529.5" cy="318.8" r="2.7"/><circle cx="531.8" cy="345.4" r="2.7"/><circle cx="531.1" cy="326.0" r="2.7"/><circle cx="530.9" cy="322.9" r="2.7"/><circle cx="529.6" cy="329.6" r="2.7"/><circle cx="533.3" cy="317.9" r="2.7"/><circle cx="530.2" cy="325.4" r="2.7"/><circle cx="585.5" cy="321.7" r="2.7"/><circle cx="535.2" cy="309.5" r="2.7"/><circle cx="582.4" cy="316.1" r="2.7"/><circle cx="534.0" cy="314.9" r="2.7"/><circle cx="578.6" cy="321.8" r="2.7"/><circle cx="547.4" cy="310.6" r="2.7"/><circle cx="562.2" cy="319.2" r="2.7"/><circle cx="573.0" cy="318.7" r="2.7"/><circle cx="558.7" cy="317.3" r="2.7"/><circle cx="576.2" cy="312.5" r="2.7"/><circle cx="568.9" cy="313.6" r="2.7"/><circle cx="547.6" cy="318.5" r="2.7"/><circle cx="540.1" cy="310.1" r="2.7"/><circle cx="565.5" cy="314.8" r="2.7"/><circle cx="566.5" cy="309.2" r="2.7"/><circle cx="558.9" cy="323.4" r="2.7"/><circle cx="581.7" cy="316.1" r="2.7"/><circle cx="547.3" cy="323.4" r="2.7"/><circle cx="550.6" cy="309.3" r="2.7"/><circle cx="570.4" cy="315.3" r="2.7"/><circle cx="570.0" cy="322.9" r="2.7"/><circle cx="535.8" cy="314.1" r="2.7"/><circle cx="570.9" cy="312.0" r="2.7"/><circle cx="573.9" cy="316.6" r="2.7"/><circle cx="586.4" cy="313.7" r="2.7"/><circle cx="546.5" cy="312.3" r="2.7"/><circle cx="549.9" cy="323.3" r="2.7"/><circle cx="544.1" cy="312.3" r="2.7"/><circle cx="569.9" cy="323.2" r="2.7"/><circle cx="555.2" cy="312.2" r="2.7"/><circle cx="541.7" cy="309.8" r="2.7"/><circle cx="555.2" cy="322.5" r="2.7"/><circle cx="573.6" cy="324.0" r="2.7"/><circle cx="551.8" cy="311.8" r="2.7"/><circle cx="574.3" cy="309.5" r="2.7"/><circle cx="554.4" cy="314.6" r="2.7"/><circle cx="543.1" cy="309.0" r="2.7"/><circle cx="553.0" cy="323.3" r="2.7"/><circle cx="586.1" cy="312.1" r="2.7"/><circle cx="578.4" cy="321.3" r="2.7"/><circle cx="536.7" cy="340.1" r="2.7"/><circle cx="583.7" cy="330.6" r="2.7"/><circle cx="582.4" cy="325.0" r="2.7"/><circle cx="577.8" cy="350.1" r="2.7"/><circle cx="535.9" cy="326.1" r="2.7"/><circle cx="547.9" cy="349.4" r="2.7"/><circle cx="552.3" cy="333.3" r="2.7"/><circle cx="567.3" cy="332.9" r="2.7"/><circle cx="551.1" cy="333.4" r="2.7"/><circle cx="535.3" cy="332.0" r="2.7"/><circle cx="585.7" cy="356.4" r="2.7"/><circle cx="547.6" cy="338.6" r="2.7"/><circle cx="584.1" cy="330.2" r="2.7"/><circle cx="573.9" cy="352.0" r="2.7"/><circle cx="566.8" cy="335.1" r="2.7"/><circle cx="553.5" cy="350.6" r="2.7"/><circle cx="544.7" cy="349.6" r="2.7"/><circle cx="537.5" cy="325.2" r="2.7"/><circle cx="548.3" cy="326.9" r="2.7"/><circle cx="560.9" cy="348.1" r="2.7"/><circle cx="546.6" cy="338.2" r="2.7"/><circle cx="570.4" cy="349.4" r="2.7"/><circle cx="569.9" cy="328.1" r="2.7"/><circle cx="549.9" cy="343.3" r="2.7"/><circle cx="573.9" cy="330.8" r="2.7"/><circle cx="547.2" cy="329.2" r="2.7"/><circle cx="565.2" cy="335.1" r="2.7"/><circle cx="587.6" cy="341.2" r="2.7"/><circle cx="577.7" cy="346.2" r="2.7"/><circle cx="539.5" cy="340.1" r="2.7"/><circle cx="579.4" cy="355.1" r="2.7"/><circle cx="549.9" cy="328.1" r="2.7"/><circle cx="586.5" cy="343.8" r="2.7"/><circle cx="558.3" cy="332.8" r="2.7"/><circle cx="585.1" cy="327.6" r="2.7"/><circle cx="567.5" cy="331.4" r="2.7"/><circle cx="541.6" cy="330.9" r="2.7"/><circle cx="566.4" cy="346.2" r="2.7"/><circle cx="534.6" cy="335.1" r="2.7"/><circle cx="544.0" cy="334.6" r="2.7"/><circle cx="576.9" cy="342.6" r="2.7"/><circle cx="539.5" cy="337.4" r="2.7"/><circle cx="568.5" cy="327.1" r="2.7"/><circle cx="571.6" cy="337.9" r="2.7"/><circle cx="550.9" cy="343.3" r="2.7"/><circle cx="587.8" cy="336.4" r="2.7"/><circle cx="573.3" cy="330.9" r="2.7"/><circle cx="582.7" cy="338.4" r="2.7"/><circle cx="558.9" cy="329.5" r="2.7"/><circle cx="563.8" cy="345.8" r="2.7"/><circle cx="538.8" cy="345.2" r="2.7"/><circle cx="561.2" cy="329.0" r="2.7"/><circle cx="539.9" cy="340.7" r="2.7"/><circle cx="586.2" cy="330.7" r="2.7"/><circle cx="584.9" cy="357.2" r="2.7"/><circle cx="567.5" cy="352.0" r="2.7"/><circle cx="576.4" cy="331.6" r="2.7"/><circle cx="579.7" cy="352.2" r="2.7"/><circle cx="545.8" cy="337.6" r="2.7"/><circle cx="554.7" cy="328.2" r="2.7"/><circle cx="573.1" cy="354.5" r="2.7"/><circle cx="564.4" cy="349.8" r="2.7"/><circle cx="579.3" cy="328.0" r="2.7"/><circle cx="563.7" cy="345.3" r="2.7"/><circle cx="556.7" cy="343.8" r="2.7"/><circle cx="569.6" cy="339.2" r="2.7"/><circle cx="535.3" cy="345.0" r="2.7"/><circle cx="546.7" cy="350.0" r="2.7"/><circle cx="558.7" cy="330.1" r="2.7"/><circle cx="539.8" cy="328.4" r="2.7"/><circle cx="539.0" cy="339.0" r="2.7"/><circle cx="536.2" cy="345.6" r="2.7"/><circle cx="573.6" cy="350.4" r="2.7"/><circle cx="536.9" cy="341.1" r="2.7"/><circle cx="585.3" cy="328.6" r="2.7"/><circle cx="587.8" cy="348.9" r="2.7"/><circle cx="583.5" cy="329.6" r="2.7"/><circle cx="584.3" cy="326.2" r="2.7"/><circle cx="574.8" cy="329.4" r="2.7"/><circle cx="541.8" cy="341.1" r="2.7"/><circle cx="545.2" cy="332.9" r="2.7"/><circle cx="551.2" cy="325.3" r="2.7"/><circle cx="543.1" cy="350.7" r="2.7"/><circle cx="562.7" cy="345.6" r="2.7"/><circle cx="581.1" cy="342.9" r="2.7"/></g>
<polyline points="64.44,326.73 65.04,326.72 65.65,326.72 66.25,326.71 66.86,326.71 67.46,326.70 68.07,326.69 68.67,326.69 69.28,326.68 69.88,326.67 70.48,326.67 71.09,326.66 71.69,326.65 72.30,326.65 72.90,326.64 73.51,326.63 74.11,326.63 74.72,326.62 75.32,326.61 75.92,326.60 76.53,326.60 77.13,326.59 77.74,326.58 78.34,326.57 78.95,326.57 79.55,326.56 80.16,326.55 80.76,326.54 81.37,326.54 81.97,326.53 82.57,326.52 83.18,326.51 83.78,326.50 84.39,326.50 84.99,326.49 85.60,326.48 86.20,326.47 86.81,326.46 87.41,326.45 88.01,326.44 88.62,326.44 89.22,326.43 89.83,326.42 90.43,326.41 91.04,326.40 91.64,326.39 92.25,326.38 92.85,326.37 93.45,326.36 94.06,326.35 94.66,326.34 95.27,326.33 95.87,326.32 96.48,326.31 97.08,326.30 97.69,326.29 98.29,326.28 98.89,326.27 99.50,326.26 100.10,326.25 100.71,326.24 101.31,326.23 101.92,326.22 102.52,326.21 103.13,326.20 103.73,326.19 104.34,326.17 104.94,326.16 105.54,326.15 106.15,326.14 106.75,326.13 107.36,326.12 107.96,326.10 108.57,326.09 109.17,326.08 109.78,326.07 110.38,326.05 110.98,326.04 111.59,326.03 112.19,326.02 112.80,326.00 113.40,325.99 114.01,325.98 114.61,325.96 115.22,325.95 115.82,325.94 116.42,325.92 117.03,325.91 117.63,325.89 118.24,325.88 118.84,325.86 119.45,325.85 120.05,325.83 120.66,325.82 121.26,325.80 121.86,325.79 122.47,325.77 123.07,325.76 123.68,325.74 124.28,325.73 124.89,325.71 125.49,325.69 126.10,325.68 126.70,325.66 127.31,325.64 127.91,325.63 128.51,325.61 129.12,325.59 129.72,325.58 130.33,325.56 130.93,325.54 131.54,325.52 132.14,325.50 132.75,325.49 133.35,325.47 133.95,325.45 134.56,325.43 135.16,325.41 135.77,325.39 136.37,325.37 136.98,325.35 137.58,325.33 138.19,325.31 138.79,325.29 139.39,325.27 140.00,325.25 140.60,325.23 141.21,325.20 141.81,325.18 142.42,325.16 143.02,325.14 143.63,325.12 144.23,325.09 144.83,325.07 145.44,325.05 146.04,325.02 146.65,325.00 147.25,324.97 147.86,324.95 148.46,324.93 149.07,324.90 149.67,324.88 150.27,324.85 150.88,324.82 151.48,324.80 152.09,324.77 152.69,324.75 153.30,324.72 153.90,324.69 154.51,324.66 155.11,324.64 155.72,324.61 156.32,324.58 156.92,324.55 157.53,324.52 158.13,324.49 158.74,324.46 159.34,324.43 159.95,324.40 160.55,324.37 161.16,324.34 161.76,324.31 162.36,324.27 162.97,324.24 163.57,324.21 164.18,324.17 164.78,324.14 165.39,324.11 165.99,324.07 166.60,324.04 167.20,324.00 167.80,323.97 168.41,323.93 169.01,323.89 169.62,323.86 170.22,323.82 170.83,323.78 171.43,323.74 172.04,323.70 172.64,323.67 173.24,323.63 173.85,323.58 174.45,323.54 175.06,323.50 175.66,323.46 176.27,323.42 176.87,323.38 177.48,323.33 178.08,323.29 178.69,323.24 179.29,323.20 179.89,323.15 180.50,323.11 181.10,323.06 181.71,323.01 182.31,322.97 182.92,322.92 183.52,322.87 184.13,322.82 184.73,322.77 185.33,322.72 185.94,322.67 186.54,322.61 187.15,322.56 187.75,322.51 188.36,322.45 188.96,322.40 189.57,322.34 190.17,322.28 190.77,322.23 191.38,322.17 191.98,322.11 192.59,322.05 193.19,321.99 193.80,321.93 194.40,321.87 195.01,321.81 195.61,321.74 196.21,321.68 196.82,321.61 197.42,321.55 198.03,321.48 198.63,321.41 199.24,321.34 199.84,321.28 200.45,321.20 201.05,321.13 201.66,321.06 202.26,320.99 202.86,320.91 203.47,320.84 204.07,320.76 204.68,320.69 205.28,320.61 205.89,320.53 206.49,320.45 207.10,320.37 207.70,320.28 208.30,320.20 208.91,320.11 209.51,320.03 210.12,319.94 210.72,319.85 211.33,319.76 211.93,319.67 212.54,319.58 213.14,319.49 213.74,319.39 214.35,319.29 214.95,319.20 215.56,319.10 216.16,319.00 216.77,318.90 217.37,318.79 217.98,318.69 218.58,318.58 219.18,318.47 219.79,318.37 220.39,318.26 221.00,318.14 221.60,318.03 222.21,317.91 222.81,317.80 223.42,317.68 224.02,317.56 224.62,317.43 225.23,317.31 225.83,317.18 226.44,317.06 227.04,316.93 227.65,316.80 228.25,316.66 228.86,316.53 229.46,316.39 230.07,316.25 230.67,316.11 231.27,315.97 231.88,315.82 232.48,315.67 233.09,315.52 233.69,315.37 234.30,315.21 234.90,315.06 235.51,314.90 236.11,314.74 236.71,314.57 237.32,314.40 237.92,314.23 238.53,314.06 239.13,313.89 239.74,313.71 240.34,313.53 240.95,313.35 241.55,313.16 242.15,312.97 242.76,312.78 243.36,312.59 243.97,312.39 244.57,312.19 245.18,311.98 245.78,311.78 246.39,311.56 246.99,311.35 247.59,311.13 248.20,310.91 248.80,310.69 249.41,310.46 250.01,310.23 250.62,309.99 251.22,309.75 251.83,309.51 252.43,309.26 253.04,309.01 253.64,308.75 254.24,308.49 254.85,308.23 255.45,307.96 256.06,307.69 256.66,307.41 257.27,307.12 257.87,306.84 258.48,306.54 259.08,306.25 259.68,305.94 260.29,305.64 260.89,305.32 261.50,305.00 262.10,304.68 262.71,304.35 263.31,304.02 263.92,303.67 264.52,303.33 265.12,302.97 265.73,302.61 266.33,302.25 266.94,301.87 267.54,301.49 268.15,301.11 268.75,300.71 269.36,300.31 269.96,299.90 270.56,299.49 271.17,299.07 271.77,298.63 272.38,298.19 272.98,297.75 273.59,297.29 274.19,296.83 274.80,296.35 275.40,295.87 276.01,295.38 276.61,294.88 277.21,294.37 277.82,293.85 278.42,293.31 279.03,292.77 279.63,292.22 280.24,291.66 280.84,291.08 281.45,290.50 282.05,289.90 282.65,289.29 283.26,288.67 283.86,288.03 284.47,287.38 285.07,286.72 285.68,286.04 286.28,285.35 286.89,284.65 287.49,283.93 288.09,283.20 288.70,282.45 289.30,281.68 289.91,280.90 290.51,280.10 291.12,279.28 291.72,278.44 292.33,277.59 292.93,276.71 293.53,275.82 294.14,274.90 294.74,273.97 295.35,273.01 295.95,272.03 296.56,271.03 297.16,270.01 297.77,268.96 298.37,267.88 298.97,266.78 299.58,265.66 300.18,264.50 300.79,263.32 301.39,262.11 302.00,260.86 302.60,259.59 303.21,258.29 303.81,256.95 304.42,255.57 305.02,254.16 305.62,252.72 306.23,251.24 306.83,249.71 307.44,248.15 308.04,246.55 308.65,244.90 309.25,243.20 309.86,241.47 310.46,239.68 311.06,237.84 311.67,235.95 312.27,234.01 312.88,232.02 313.48,229.96 314.09,227.85 314.69,225.68 315.30,223.45 315.90,221.15 316.50,218.79 317.11,216.36 317.71,213.86 318.32,211.28 318.92,208.64 319.53,205.91 320.13,203.12 320.74,200.24 321.34,197.29 321.94,194.25 322.55,191.14 323.15,187.95 323.76,184.68 324.36,181.33 324.97,177.91 325.57,174.43 326.18,170.88 326.78,167.28 327.39,163.63 327.99,159.95 328.59,156.26 329.20,152.57 329.80,148.90 330.41,145.28 331.01,141.74 331.62,138.31 332.22,135.03 332.83,131.94 333.43,129.09 334.03,126.51 334.64,124.26 335.24,122.38 335.85,120.90 336.45,119.85 337.06,119.27 337.66,119.16 338.27,119.52 338.87,120.36 339.47,121.64 340.08,123.34 340.68,125.43 341.29,127.86 341.89,130.59 342.50,133.58 343.10,136.77 343.71,140.13 344.31,143.63 344.91,147.22 345.52,150.86 346.12,154.55 346.73,158.25 347.33,161.93 347.94,165.59 348.54,169.22 349.15,172.79 349.75,176.31 350.36,179.76 350.96,183.14 351.56,186.44 352.17,189.67 352.77,192.82 353.38,195.89 353.98,198.88 354.59,201.79 355.19,204.63 355.80,207.39 356.40,210.07 357.00,212.67 357.61,215.21 358.21,217.67 358.82,220.07 359.42,222.39 360.03,224.66 360.63,226.86 361.24,229.00 361.84,231.07 362.44,233.10 363.05,235.06 363.65,236.97 364.26,238.83 364.86,240.64 365.47,242.41 366.07,244.12 366.68,245.79 367.28,247.41 367.88,248.99 368.49,250.54 369.09,252.04 369.70,253.50 370.30,254.93 370.91,256.31 371.51,257.67 372.12,258.99 372.72,260.28 373.33,261.54 373.93,262.76 374.53,263.96 375.14,265.12 375.74,266.26 376.35,267.38 376.95,268.46 377.56,269.52 378.16,270.56 378.77,271.57 379.37,272.56 379.97,273.53 380.58,274.47 381.18,275.40 381.79,276.30 382.39,277.18 383.00,278.05 383.60,278.89 384.21,279.72 384.81,280.53 385.41,281.32 386.02,282.09 386.62,282.85 387.23,283.59 387.83,284.32 388.44,285.03 389.04,285.73 389.65,286.41 390.25,287.08 390.85,287.73 391.46,288.37 392.06,289.00 392.67,289.62 393.27,290.22 393.88,290.81 394.48,291.39 395.09,291.96 395.69,292.52 396.29,293.06 396.90,293.60 397.50,294.13 398.11,294.64 398.71,295.15 399.32,295.64 399.92,296.13 400.53,296.61 401.13,297.08 401.74,297.54 402.34,297.99 402.94,298.43 403.55,298.87 404.15,299.29 404.76,299.71 405.36,300.12 405.97,300.53 406.57,300.93 407.18,301.32 407.78,301.70 408.38,302.07 408.99,302.44 409.59,302.81 410.20,303.16 410.80,303.51 411.41,303.86 412.01,304.20 412.62,304.53 413.22,304.86 413.82,305.18 414.43,305.49 415.03,305.80 415.64,306.11 416.24,306.41 416.85,306.70 417.45,306.99 418.06,307.28 418.66,307.56 419.26,307.83 419.87,308.10 420.47,308.37 421.08,308.63 421.68,308.89 422.29,309.14 422.89,309.39 423.50,309.64 424.10,309.88 424.71,310.12 425.31,310.35 425.91,310.58 426.52,310.81 427.12,311.03 427.73,311.25 428.33,311.47 428.94,311.68 429.54,311.89 430.15,312.09 430.75,312.29 431.35,312.49 431.96,312.69 432.56,312.88 433.17,313.07 433.77,313.26 434.38,313.45 434.98,313.63 435.59,313.81 436.19,313.98 436.79,314.16 437.40,314.33 438.00,314.49 438.61,314.66 439.21,314.82 439.82,314.98 440.42,315.14 441.03,315.30 441.63,315.45 442.23,315.60 442.84,315.75 443.44,315.90 444.05,316.04 444.65,316.19 445.26,316.33 445.86,316.46 446.47,316.60 447.07,316.73 447.68,316.87 448.28,317.00 448.88,317.13 449.49,317.25 450.09,317.38 450.70,317.50 451.30,317.62 451.91,317.74 452.51,317.86 453.12,317.98 453.72,318.09 454.32,318.20 454.93,318.31 455.53,318.42 456.14,318.53 456.74,318.64 457.35,318.74 457.95,318.85 458.56,318.95 459.16,319.05 459.76,319.15 460.37,319.25 460.97,319.35 461.58,319.44 462.18,319.54 462.79,319.63 463.39,319.72 464.00,319.81 464.60,319.90 465.20,319.99 465.81,320.07 466.41,320.16 467.02,320.24 467.62,320.33 468.23,320.41 468.83,320.49 469.44,320.57 470.04,320.65 470.64,320.73 471.25,320.80 471.85,320.88 472.46,320.95 473.06,321.03 473.67,321.10 474.27,321.17 474.88,321.24 475.48,321.31 476.09,321.38 476.69,321.45 477.29,321.52 477.90,321.58 478.50,321.65 479.11,321.71 479.71,321.78 480.32,321.84 480.92,321.90 481.53,321.96 482.13,322.02 482.73,322.08 483.34,322.14 483.94,322.20 484.55,322.26 485.15,322.32 485.76,322.37 486.36,322.43 486.97,322.48 487.57,322.54 488.17,322.59 488.78,322.64 489.38,322.69 489.99,322.74 490.59,322.80 491.20,322.85 491.80,322.89 492.41,322.94 493.01,322.99 493.61,323.04 494.22,323.09 494.82,323.13 495.43,323.18 496.03,323.22 496.64,323.27 497.24,323.31 497.85,323.36 498.45,323.40 499.06,323.44 499.66,323.48 500.26,323.53 500.87,323.57 501.47,323.61 502.08,323.65 502.68,323.69 503.29,323.73 503.89,323.76 504.50,323.80 505.10,323.84 505.70,323.88 506.31,323.91 506.91,323.95 507.52,323.99 508.12,324.02 508.73,324.06 509.33,324.09 509.94,324.13 510.54,324.16 511.14,324.19 511.75,324.23 512.35,324.26 512.96,324.29 513.56,324.32 514.17,324.35 514.77,324.39 515.38,324.42 515.98,324.45 516.58,324.48 517.19,324.51 517.79,324.54 518.40,324.57 519.00,324.59 519.61,324.62 520.21,324.65 520.82,324.68 521.42,324.71 522.03,324.73 522.63,324.76 523.23,324.79 523.84,324.81 524.44,324.84 525.05,324.86 525.65,324.89 526.26,324.91 526.86,324.94 527.47,324.96 528.07,324.99 528.67,325.01 529.28,325.04 529.88,325.06 530.49,325.08 531.09,325.10 531.70,325.13 532.30,325.15 532.91,325.17 533.51,325.19 534.11,325.22 534.72,325.24 535.32,325.26 535.93,325.28 536.53,325.30 537.14,325.32 537.74,325.34 538.35,325.36 538.95,325.38 539.55,325.40 540.16,325.42 540.76,325.44 541.37,325.46 541.97,325.48 542.58,325.50 543.18,325.51 543.79,325.53 544.39,325.55 544.99,325.57 545.60,325.59 546.20,325.60 546.81,325.62 547.41,325.64 548.02,325.65 548.62,325.67 549.23,325.69 549.83,325.70 550.44,325.72 551.04,325.74 551.64,325.75 552.25,325.77 552.85,325.78 553.46,325.80 554.06,325.81 554.67,325.83 555.27,325.84 555.88,325.86 556.48,325.87 557.08,325.89 557.69,325.90 558.29,325.91 558.90,325.93 559.50,325.94 560.11,325.96 560.71,325.97 561.32,325.98 561.92,326.00 562.52,326.01 563.13,326.02 563.73,326.04 564.34,326.05 564.94,326.06 565.55,326.07 566.15,326.09 566.76,326.10 567.36,326.11 567.96,326.12 568.57,326.13 569.17,326.15 569.78,326.16 570.38,326.17 570.99,326.18 571.59,326.19 572.20,326.20 572.80,326.21 573.41,326.22 574.01,326.24 574.61,326.25 575.22,326.26 575.82,326.27 576.43,326.28 577.03,326.29 577.64,326.30 578.24,326.31 578.85,326.32 579.45,326.33 580.05,326.34 580.66,326.35 581.26,326.36 581.87,326.37 582.47,326.38 583.08,326.39 583.68,326.40 584.29,326.40 584.89,326.41 585.49,326.42 586.10,326.43 586.70,326.44 587.31,326.45 587.91,326.46 588.52,326.47 589.12,326.47 589.73,326.48 590.33,326.49 590.93,326.50 591.54,326.51 592.14,326.52 592.75,326.52 593.35,326.53 593.96,326.54 594.56,326.55 595.17,326.56 595.77,326.56 596.38,326.57 596.98,326.58 597.58,326.59 598.19,326.59 598.79,326.60 599.40,326.61 600.00,326.62 600.61,326.62 601.21,326.63 601.82,326.64 602.42,326.64 603.02,326.65 603.63,326.66 604.23,326.66 604.84,326.67 605.44,326.68 606.05,326.68 606.65,326.69 607.26,326.70 607.86,326.70" fill="none" stroke="#f0f" stroke-width="1.1"/></g>
<rect x="87.5" y="62.4" width="499.79999999999995" height="374.5" fill="none" stroke="#000" stroke-width="1.3"/>
<text x="239.5" y="41.6" font-family="Liberation Serif, serif" fill="#000" stroke="#000" stroke-width="0.45" font-size="21" textLength="196.2" lengthAdjust="spacingAndGlyphs">OGLE-2025-BLG-0259</text>
<text x="272.9" y="491.6" font-family="Liberation Serif, serif" fill="#000" stroke="#000" stroke-width="0.45" font-size="21" textLength="128.8" lengthAdjust="spacingAndGlyphs">HJD - 2450000</text>
<text transform="translate(26.9,302.4) rotate(-90)" font-family="Liberation Serif, serif" fill="#000" stroke="#000" stroke-width="0.45" font-size="21" textLength="106" lengthAdjust="spacingAndGlyphs">I magnitude</text>
<text x="42.6" y="135.3" font-family="Liberation Serif, serif" fill="#000" stroke="#000" stroke-width="0.45" font-size="19" textLength="35.3" lengthAdjust="spacingAndGlyphs">17.5</text>
<text x="58.2" y="214.1" font-family="Liberation Serif, serif" fill="#000" stroke="#000" stroke-width="0.45" font-size="19" textLength="19.7" lengthAdjust="spacingAndGlyphs">18</text>
<text x="42.6" y="292.3" font-family="Liberation Serif, serif" fill="#000" stroke="#000" stroke-width="0.45" font-size="19" textLength="35.3" lengthAdjust="spacingAndGlyphs">18.5</text>
<text x="58.2" y="371.3" font-family="Liberation Serif, serif" fill="#000" stroke="#000" stroke-width="0.45" font-size="19" textLength="19.7" lengthAdjust="spacingAndGlyphs">19</text>
<text x="159.8" y="462.8" font-family="Liberation Serif, serif" fill="#000" stroke="#000" stroke-width="0.45" font-size="19" textLength="52.2" lengthAdjust="spacingAndGlyphs">10700</text>
<text x="310.7" y="462.8" font-family="Liberation Serif, serif" fill="#000" stroke="#000" stroke-width="0.45" font-size="19" textLength="52.2" lengthAdjust="spacingAndGlyphs">10750</text>
<text x="461.7" y="462.8" font-family="Liberation Serif, serif" fill="#000" stroke="#000" stroke-width="0.45" font-size="19" textLength="52.2" lengthAdjust="spacingAndGlyphs">10800</text>
</svg></body></html>
